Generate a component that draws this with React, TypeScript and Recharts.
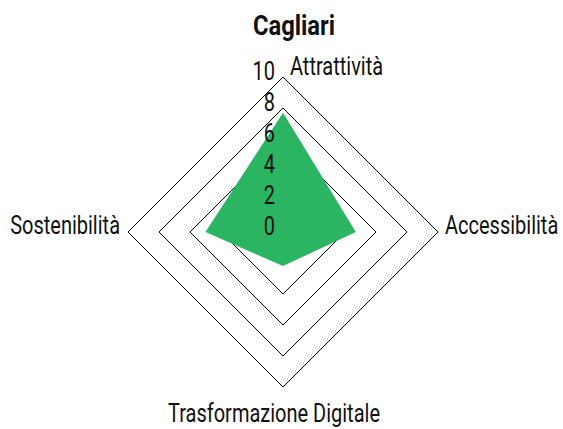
import React from "react";
import {
  RadarChart,
  Radar,
  PolarGrid,
  PolarAngleAxis,
  PolarRadiusAxis,
} from "recharts";

// Scores per dimension
const categories = [
  "Attrattività",
  "Accessibilità",
  "Trasformazione Digitale",
  "Sostenibilità",
];
const scores = [7.7, 4.7, 2.2, 5.0];
const radiusTicks = [0, 2, 4, 6, 8, 10];
const title = "Cagliari";

const data = categories.map((name, i) => ({ name, value: scores[i] }));

const FONT = "Roboto, 'Liberation Sans', sans-serif";
const SX = 0.8; // squeeze text to look condensed
const CX = 283;
const CY = 232;
const R = 155;

// Narrow text helper
const CondText = ({ x, y, anchor, size, weight, children }: any) => (
  <text
    transform={`translate(${x},${y}) scale(${SX},1)`}
    textAnchor={anchor}
    fontFamily={FONT}
    fontSize={size}
    fontWeight={weight || 400}
    fill="#111"
  >
    {children}
  </text>
);

const AngleTick = (props: any) => {
  const { payload } = props;
  const a = (payload.coordinate * Math.PI) / 180;
  const px = CX + R * Math.cos(a);
  const py = CY - R * Math.sin(a);
  let x = px;
  let y = py;
  let anchor = "middle";
  if (Math.abs(px - CX) < 1) {
    if (py < CY) {
      x = px + 7;
      y = py - 2;
      anchor = "start";
    } else {
      x = px - 9;
      y = py + 35;
    }
  } else if (px > CX) {
    x = px + 7;
    y = py + 2;
    anchor = "start";
  } else {
    x = px - 8;
    y = py + 2;
    anchor = "end";
  }
  return (
    <CondText x={x} y={y} anchor={anchor} size={25}>
      {payload.value}
    </CondText>
  );
};

const RadiusTick = (props: any) => {
  const { x, y, payload } = props;
  return (
    <CondText x={x - 8} y={y + 3} anchor="end" size={25}>
      {payload.value}
    </CondText>
  );
};

export default function App() {
  return (
    <div style={{ position: "absolute", left: 0, top: 0, width: 563, height: 429 }}>
      <RadarChart
        width={563}
        height={429}
        data={data}
        cx={CX}
        cy={CY}
        outerRadius={R}
        startAngle={90}
        endAngle={-270}
      >
        <PolarGrid gridType="polygon" radialLines={false} stroke="#000" strokeOpacity={1} />
        <PolarAngleAxis dataKey="name" tick={<AngleTick />} tickLine={false} axisLine={false} />
        <PolarRadiusAxis
          domain={[0, 10]}
          ticks={radiusTicks}
          angle={90}
          axisLine={false}
          tickLine={false}
          tick={<RadiusTick />}
        />
        <Radar
          dataKey="value"
          fill="#2bb563"
          fillOpacity={1}
          stroke="none"
          isAnimationActive={false}
        />
      </RadarChart>
      <svg
        width={563}
        height={50}
        style={{ position: "absolute", left: 0, top: 0 }}
      >
        <text
          transform={`translate(294,35) scale(0.85,1)`}
          textAnchor="middle"
          fontFamily={FONT}
          fontSize={28}
          fontWeight={700}
          fill="#111"
        >
          {title}
        </text>
      </svg>
    </div>
  );
}
